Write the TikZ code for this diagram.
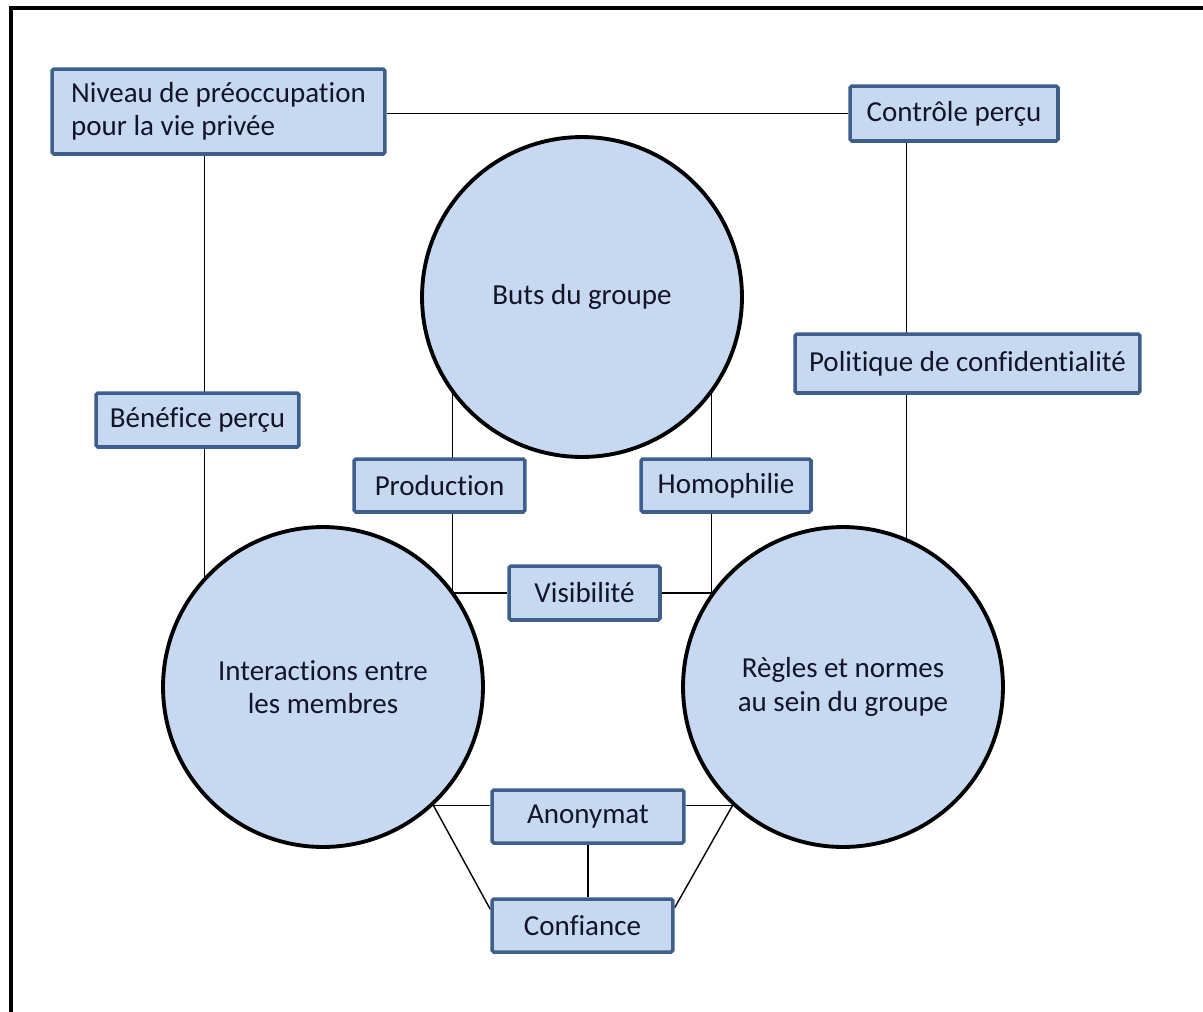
\documentclass[tikz,border=0pt]{standalone}
\usepackage{fontspec}
\setmainfont{Carlito}[Ligatures=NoCommon]
\usepackage{xcolor}
\usetikzlibrary{backgrounds}
\definecolor{bleuclair}{HTML}{C6D9F1}
\definecolor{bleufonce}{HTML}{3E5F8C}
\definecolor{texte}{HTML}{141428}

\begin{document}
\begin{tikzpicture}[x=0.02cm,y=-0.02cm,
  boite/.style={draw=bleufonce, line width=2pt, fill=bleuclair, rounded corners=1pt,
    minimum height=1.06cm, text=texte, font=\fontsize{16.5}{19}\selectfont},
  rond/.style={circle, draw=black, line width=2.2pt, fill=bleuclair, minimum size=6.4cm,
    align=center, text=texte, font=\fontsize{16.5}{19}\selectfont},
  lien/.style={line width=0.8pt}]
\useasboundingbox (0,0) rectangle (1203,1011);
%% cadre
\draw[line width=2.2pt] (11,1040) -- (11,8) -- (1230,8);
%% cercles
\node[rond] (buts) at (582,297) {Buts du groupe};
\node[rond] (inter) at (323,687) {Interactions entre\\les membres};
\node[rond] (regles) at (843,687) {Règles et normes\\au sein du groupe};
%% boites
\node[boite, minimum width=6.66cm, minimum height=1.70cm, align=left] (niveau) at (218.5,111.5) {Niveau de préoccupation\\pour la vie privée};
\node[boite, minimum width=4.16cm, minimum height=1.10cm] (controle) at (954,113.5) {Contrôle perçu};
\node[boite, minimum width=6.90cm, minimum height=1.18cm] (politique) at (967.5,363.5) {Politique de confidentialité};
\node[boite, minimum width=4.06cm, minimum height=1.08cm] (benef) at (197.5,420) {Bénéfice perçu};
\node[boite, minimum width=3.42cm] (prod) at (439.5,485.5) {Production};
\node[boite, minimum width=3.40cm] (homo) at (726,485.5) {Homophilie};
\node[boite, minimum width=3.02cm, minimum height=1.08cm] (vis) at (584.5,593) {Visibilité};
\node[boite, minimum width=3.84cm] (anon) at (588,816.5) {Anonymat};
\node[boite, minimum width=3.62cm] (conf) at (582.5,925.5) {Confiance};
%% liens
\begin{scope}[on background layer]
\draw[lien] (controle.west -| niveau.east) -- (controle.west);
\draw[lien] (inter.137) -- (inter.137 |- niveau.south);
\draw[lien] (regles.67) -- (regles.67 |- controle.south);
\draw[lien] (buts.217) |- (vis.west);
\draw[lien] (buts.323) |- (vis.east);
\draw[lien] (inter.-47) -- (inter.-47 -| anon.west);
\draw[lien] (regles.-133) -- (regles.-133 -| anon.east);
\draw[lien] (anon.south) -- (anon.south |- conf.north);
\draw[lien] (inter.-47) -- (conf.170);
\draw[lien] (regles.-133) -- (conf.11);
\end{scope}
\end{tikzpicture}
\end{document}
